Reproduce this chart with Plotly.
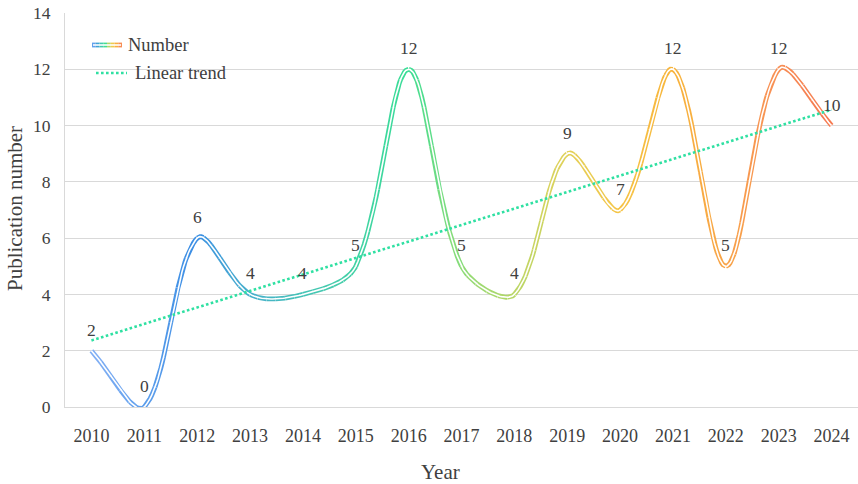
import numpy as np
import plotly.graph_objects as go

# ---------------- data ----------------
years = [2010, 2011, 2012, 2013, 2014, 2015, 2016, 2017, 2018, 2019, 2020, 2021, 2022, 2023, 2024]
publications = [2, 0, 6, 4, 4, 5, 12, 5, 4, 9, 7, 12, 5, 12, 10]
y_ticks = [0, 2, 4, 6, 8, 10, 12, 14]

# ---------------- style ----------------
FONT = "Times New Roman, Liberation Serif, DejaVu Serif, serif"
TXT = "#404040"
GRID = "#d9d9d9"
TREND_COLOR = "#2fe0a2"
stops_t = [0, 2, 3, 4.5, 6, 7, 8, 9, 10, 11, 12, 13, 14]
stops_c = [(130, 176, 245), (58, 142, 228), (72, 176, 205), (68, 204, 172), (58, 222, 150),
           (140, 220, 120), (186, 215, 102), (226, 210, 90), (246, 196, 70), (248, 180, 60),
           (248, 164, 72), (248, 144, 86), (246, 120, 80)]


def color_at(t):
    r = np.interp(t, stops_t, [c[0] for c in stops_c])
    g = np.interp(t, stops_t, [c[1] for c in stops_c])
    b = np.interp(t, stops_t, [c[2] for c in stops_c])
    return f"rgb({int(r)},{int(g)},{int(b)})"


# geometry (pixels)
L, R, T, B = 65, 0, 13, 77
W, H = 858 - L - R, 484 - T - B
X_RANGE = [years[0] - 0.5, years[-1] + 0.5]
Y_RANGE = [0, 14]
SX = W / (X_RANGE[1] - X_RANGE[0])
SY = H / (Y_RANGE[1] - Y_RANGE[0])


def px(xp):
    return (xp - L) / W


def py(yp):
    return (484 - B - yp) / H


# smoothed (Excel-style Bezier, screen-space) rendering of the series
xs = np.array(years, dtype=float)
ys = np.array(publications, dtype=float)
n = len(xs)
P = np.column_stack([xs * SX, ys * SY])

ctrl_out, ctrl_in = [], []
for i in range(n):
    pm = P[i - 1] if i > 0 else P[i]
    pp = P[i + 1] if i < n - 1 else P[i]
    lin = np.linalg.norm(P[i] - pm)
    lout = np.linalg.norm(pp - P[i])
    d = pp - pm
    tot = lin + lout if lin + lout > 0 else 1
    ctrl_out.append(P[i] + d * (lout / tot) / 3.0)
    ctrl_in.append(P[i] - d * (lin / tot) / 3.0)

fig = go.Figure()
curve_x, curve_y = [], []
STEPS = 36
PIECES = 6
for i in range(n - 1):
    p0, c1, c2, p3 = P[i], ctrl_out[i], ctrl_in[i + 1], P[i + 1]
    tt = np.linspace(0, 1, STEPS + 1)
    pts = (np.outer((1 - tt) ** 3, p0) + np.outer(3 * (1 - tt) ** 2 * tt, c1)
           + np.outer(3 * (1 - tt) * tt ** 2, c2) + np.outer(tt ** 3, p3))
    pts = np.column_stack([pts[:, 0] / SX, pts[:, 1] / SY])
    seg_len = STEPS // PIECES
    for k in range(PIECES):
        sub = pts[k * seg_len:(k + 1) * seg_len + 1]
        tmid = i + (k + 0.5) / PIECES
        fig.add_trace(go.Scatter(x=sub[:, 0], y=sub[:, 1], mode="lines",
                                 line=dict(color=color_at(tmid), width=4.8),
                                 hoverinfo="skip", showlegend=False))
    start = 0 if i == 0 else 1
    curve_x.extend(pts[start:, 0]); curve_y.extend(pts[start:, 1])

fig.add_trace(go.Scatter(x=curve_x, y=curve_y, mode="lines",
                         line=dict(color="white", width=1.6),
                         hoverinfo="skip", showlegend=False))

# linear trend
coef = np.polyfit(xs - xs[0], ys, 1)
trend_y = coef[0] * (xs - xs[0]) + coef[1]
fig.add_trace(go.Scatter(x=xs, y=trend_y, mode="lines",
                         line=dict(color=TREND_COLOR, width=2.6, dash="2.6px,2.4px"),
                         hoverinfo="skip", showlegend=False))

# data labels
annotations = []
for yr, v in zip(years, publications):
    annotations.append(dict(x=yr, y=v, text=str(v), showarrow=False, yshift=21,
                            font=dict(family=FONT, size=17.5, color=TXT)))

# axis titles
annotations.append(dict(x=px(15), y=py(209), xref="paper", yref="paper", text="Publication number",
                        textangle=-90, showarrow=False, xanchor="center", yanchor="middle",
                        font=dict(family=FONT, size=21, color=TXT)))
annotations.append(dict(x=px(440), y=py(472), xref="paper", yref="paper", text="Year",
                        showarrow=False, xanchor="center", yanchor="middle",
                        font=dict(family=FONT, size=21, color=TXT)))

# manual legend
shapes = []
lx0, lx1, ly = 92, 122, 45
nseg = 8
for k in range(nseg):
    a = lx0 + (lx1 - lx0) * k / nseg
    b = lx0 + (lx1 - lx0) * (k + 1) / nseg
    shapes.append(dict(type="line", xref="paper", yref="paper", x0=px(a), x1=px(b), y0=py(ly), y1=py(ly),
                       line=dict(color=color_at(14 * (k + 0.5) / nseg), width=4.8)))
shapes.append(dict(type="line", xref="paper", yref="paper", x0=px(lx0 + 1), x1=px(lx1 - 1), y0=py(ly), y1=py(ly),
                   line=dict(color="white", width=1.6)))
shapes.append(dict(type="line", xref="paper", yref="paper", x0=px(96), x1=px(127), y0=py(73), y1=py(73),
                   line=dict(color=TREND_COLOR, width=2.6, dash="2.6px,2.4px")))
annotations.append(dict(x=px(126), y=py(45), xref="paper", yref="paper", text="Number", showarrow=False,
                        xanchor="left", yanchor="middle", font=dict(family=FONT, size=18.5, color=TXT)))
annotations.append(dict(x=px(133), y=py(73), xref="paper", yref="paper", text="Linear trend", showarrow=False,
                        xanchor="left", yanchor="middle", font=dict(family=FONT, size=18.5, color=TXT)))

fig.update_layout(
    width=858, height=484,
    margin=dict(l=L, r=R, t=T, b=B),
    paper_bgcolor="white", plot_bgcolor="white",
    showlegend=False,
    annotations=annotations,
    shapes=shapes,
    font=dict(family=FONT, color=TXT),
)
fig.update_xaxes(range=X_RANGE, tickvals=years, ticktext=[str(y) for y in years],
                 showgrid=False, zeroline=False, showline=True, linecolor=GRID, linewidth=1,
                 ticks="", ticklabelstandoff=12, tickfont=dict(family=FONT, size=18, color=TXT))
fig.update_yaxes(range=Y_RANGE, tickvals=y_ticks, showgrid=True, gridcolor=GRID, gridwidth=1,
                 zeroline=False, showline=True, linecolor=GRID, linewidth=1,
                 ticks="", ticklabelstandoff=10, tickfont=dict(family=FONT, size=17.5, color=TXT))

fig.write_html("out.html", config={"displayModeBar": False},
               post_script="document.body.style.margin='0px';document.body.style.padding='0px';")
